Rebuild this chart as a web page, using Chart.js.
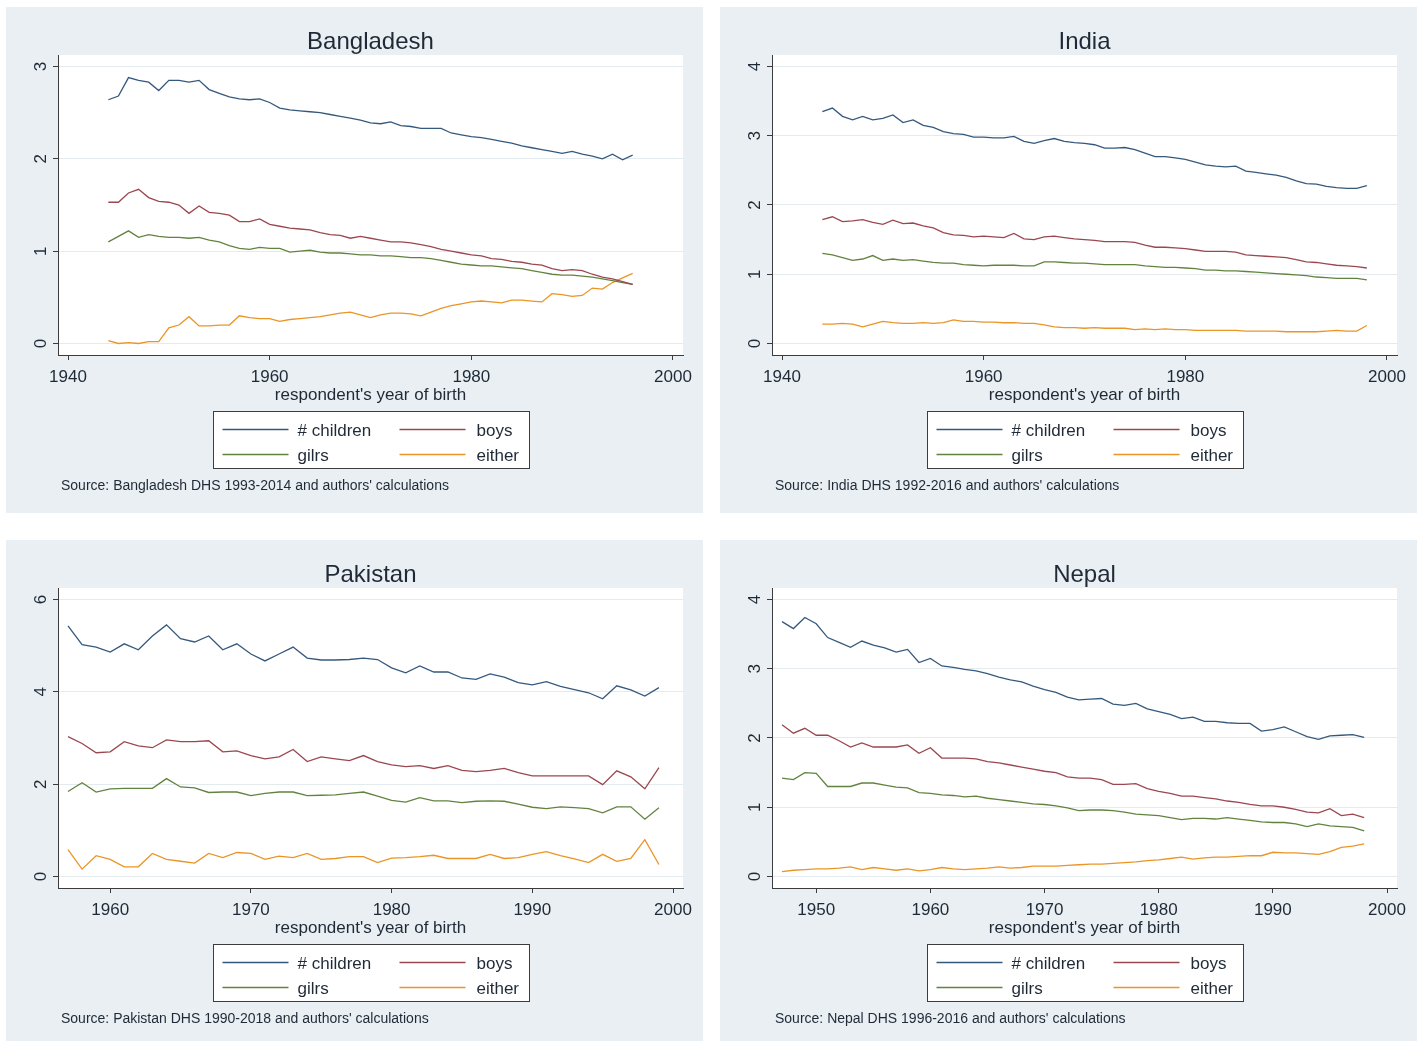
<!DOCTYPE html>
<html>
<head>
<meta charset="utf-8">
<title>Number of children by year of birth</title>
<script src="https://cdn.jsdelivr.net/npm/chart.js@4.4.1/dist/chart.umd.min.js"></script>
<style>
  html, body { margin: 0; padding: 0; background: #fff; overflow: hidden; width: 1427px; height: 1041px; }
  .panel { position: absolute; width: 697px; height: 506px; background: #e9eff2; }
  .panel canvas { position: absolute; left: 0; top: 0; }
</style>
</head>
<body>
<div class="panel" style="left:6px;top:7px"><canvas id="bd" width="697" height="506"></canvas></div>
<div class="panel" style="left:720px;top:7px"><canvas id="in" width="697" height="506"></canvas></div>
<div class="panel" style="left:6px;top:540px"><canvas id="pk" width="697" height="506"></canvas></div>
<div class="panel" style="left:720px;top:540px"><canvas id="np" width="697" height="506"></canvas></div>
<script>
// series order is the same in every panel
const seriesLabels = ['# children', 'boys', 'gilrs', 'either'];
const lineColors = ['#35597c', '#9b4750', '#62833f', '#ea9526'];

function yearSpan(a, b) {
  const out = [];
  for (let y = a; y <= b; y++) out.push(y);
  return out;
}

// Bangladesh
const bdYears = yearSpan(1944, 1996);
const bdXTicks = [1940, 1960, 1980, 2000];
const bdYTicks = [0, 1, 2, 3];
const bdChildren = [2.64, 2.68, 2.88, 2.85, 2.83, 2.74, 2.85, 2.85, 2.83, 2.85, 2.75, 2.71, 2.67, 2.65, 2.64, 2.65, 2.61, 2.55, 2.53, 2.52,
  2.51, 2.50, 2.48, 2.46, 2.44, 2.42, 2.39, 2.38, 2.40, 2.36, 2.35, 2.33, 2.33, 2.33, 2.28, 2.26, 2.24, 2.23, 2.21, 2.19,
  2.17, 2.14, 2.12, 2.10, 2.08, 2.06, 2.08, 2.05, 2.03, 2.00, 2.05, 1.99, 2.04];
const bdBoys = [1.53, 1.53, 1.63, 1.67, 1.58, 1.54, 1.53, 1.50, 1.41, 1.49, 1.42, 1.41, 1.39, 1.32, 1.32, 1.35, 1.29, 1.27, 1.25, 1.24,
  1.23, 1.20, 1.18, 1.17, 1.14, 1.16, 1.14, 1.12, 1.10, 1.10, 1.09, 1.07, 1.05, 1.02, 1.00, 0.98, 0.96, 0.95, 0.92, 0.91,
  0.89, 0.88, 0.86, 0.85, 0.81, 0.79, 0.80, 0.79, 0.75, 0.72, 0.70, 0.67, 0.64];
const bdGirls = [1.10, 1.16, 1.22, 1.15, 1.18, 1.16, 1.15, 1.15, 1.14, 1.15, 1.12, 1.10, 1.06, 1.03, 1.02, 1.04, 1.03, 1.03, 0.99, 1.00,
  1.01, 0.99, 0.98, 0.98, 0.97, 0.96, 0.96, 0.95, 0.95, 0.94, 0.93, 0.93, 0.92, 0.90, 0.88, 0.86, 0.85, 0.84, 0.84, 0.83,
  0.82, 0.81, 0.79, 0.77, 0.75, 0.74, 0.74, 0.73, 0.72, 0.70, 0.68, 0.66, 0.64];
const bdEither = [0.03, 0.00, 0.01, 0.00, 0.02, 0.02, 0.17, 0.20, 0.29, 0.19, 0.19, 0.20, 0.20, 0.30, 0.28, 0.27, 0.27, 0.24, 0.26, 0.27,
  0.28, 0.29, 0.31, 0.33, 0.34, 0.31, 0.28, 0.31, 0.33, 0.33, 0.32, 0.30, 0.34, 0.38, 0.41, 0.43, 0.45, 0.46, 0.45, 0.44,
  0.47, 0.47, 0.46, 0.45, 0.54, 0.53, 0.51, 0.52, 0.60, 0.59, 0.66, 0.71, 0.76];

// India
const inYears = yearSpan(1944, 1998);
const inXTicks = [1940, 1960, 1980, 2000];
const inYTicks = [0, 1, 2, 3, 4];
const inChildren = [3.35, 3.40, 3.28, 3.23, 3.28, 3.23, 3.25, 3.30, 3.19, 3.23, 3.15, 3.12, 3.06, 3.03, 3.02, 2.98, 2.98, 2.97, 2.97, 2.99,
  2.92, 2.89, 2.93, 2.96, 2.92, 2.90, 2.89, 2.87, 2.82, 2.82, 2.83, 2.80, 2.75, 2.70, 2.70, 2.68, 2.66, 2.62, 2.58, 2.56,
  2.55, 2.56, 2.49, 2.47, 2.45, 2.43, 2.40, 2.35, 2.31, 2.30, 2.27, 2.25, 2.24, 2.24, 2.28];
const inBoys = [1.79, 1.83, 1.76, 1.77, 1.79, 1.75, 1.72, 1.78, 1.73, 1.74, 1.70, 1.67, 1.60, 1.57, 1.56, 1.54, 1.55, 1.54, 1.53, 1.59,
  1.51, 1.50, 1.54, 1.55, 1.53, 1.51, 1.50, 1.49, 1.47, 1.47, 1.47, 1.46, 1.42, 1.39, 1.39, 1.38, 1.37, 1.35, 1.33, 1.33,
  1.33, 1.32, 1.28, 1.27, 1.26, 1.25, 1.24, 1.21, 1.18, 1.17, 1.15, 1.13, 1.12, 1.11, 1.09];
const inGirls = [1.30, 1.28, 1.24, 1.20, 1.22, 1.27, 1.20, 1.22, 1.20, 1.21, 1.19, 1.17, 1.16, 1.16, 1.14, 1.13, 1.12, 1.13, 1.13, 1.13,
  1.12, 1.12, 1.18, 1.18, 1.17, 1.16, 1.16, 1.15, 1.14, 1.14, 1.14, 1.14, 1.12, 1.11, 1.10, 1.10, 1.09, 1.08, 1.06, 1.06,
  1.05, 1.05, 1.04, 1.03, 1.02, 1.01, 1.00, 0.99, 0.98, 0.96, 0.95, 0.94, 0.94, 0.94, 0.92];
const inEither = [0.28, 0.28, 0.29, 0.28, 0.24, 0.28, 0.32, 0.30, 0.29, 0.29, 0.30, 0.29, 0.30, 0.34, 0.32, 0.32, 0.31, 0.31, 0.30, 0.30,
  0.29, 0.29, 0.27, 0.24, 0.23, 0.23, 0.22, 0.23, 0.22, 0.22, 0.22, 0.20, 0.21, 0.20, 0.21, 0.20, 0.20, 0.19, 0.19, 0.19,
  0.19, 0.19, 0.18, 0.18, 0.18, 0.18, 0.17, 0.17, 0.17, 0.17, 0.18, 0.19, 0.18, 0.18, 0.26];

// Pakistan
const pkYears = yearSpan(1957, 1999);
const pkXTicks = [1960, 1970, 1980, 1990, 2000];
const pkYTicks = [0, 2, 4, 6];
const pkChildren = [5.43, 5.02, 4.97, 4.86, 5.04, 4.91, 5.21, 5.45, 5.15, 5.08, 5.21, 4.91, 5.04, 4.82, 4.67, 4.82, 4.97, 4.73, 4.69, 4.69,
  4.70, 4.73, 4.70, 4.52, 4.41, 4.56, 4.43, 4.43, 4.30, 4.27, 4.39, 4.32, 4.20, 4.15, 4.22, 4.12, 4.05, 3.98, 3.85, 4.13,
  4.04, 3.91, 4.09];
const pkBoys = [3.03, 2.88, 2.68, 2.70, 2.92, 2.83, 2.79, 2.96, 2.92, 2.92, 2.94, 2.70, 2.72, 2.62, 2.55, 2.59, 2.75, 2.49, 2.59, 2.55,
  2.51, 2.62, 2.49, 2.42, 2.38, 2.40, 2.34, 2.40, 2.30, 2.27, 2.30, 2.34, 2.25, 2.18, 2.18, 2.18, 2.18, 2.18, 1.99, 2.29,
  2.16, 1.90, 2.36];
const pkGirls = [1.84, 2.03, 1.83, 1.90, 1.91, 1.91, 1.91, 2.12, 1.94, 1.92, 1.82, 1.83, 1.83, 1.75, 1.80, 1.83, 1.83, 1.75, 1.76, 1.77,
  1.80, 1.83, 1.74, 1.65, 1.61, 1.71, 1.64, 1.64, 1.60, 1.63, 1.64, 1.63, 1.57, 1.50, 1.47, 1.51, 1.49, 1.47, 1.38, 1.51,
  1.51, 1.24, 1.49];
const pkEither = [0.58, 0.16, 0.45, 0.37, 0.21, 0.21, 0.50, 0.37, 0.33, 0.29, 0.50, 0.41, 0.52, 0.50, 0.37, 0.44, 0.41, 0.50, 0.37, 0.39,
  0.43, 0.43, 0.30, 0.40, 0.41, 0.43, 0.46, 0.39, 0.39, 0.39, 0.48, 0.39, 0.41, 0.48, 0.54, 0.45, 0.38, 0.30, 0.48, 0.33,
  0.39, 0.80, 0.26];

// Nepal
const npYears = yearSpan(1947, 1998);
const npXTicks = [1950, 1960, 1970, 1980, 1990, 2000];
const npYTicks = [0, 1, 2, 3, 4];
const npChildren = [3.68, 3.58, 3.74, 3.65, 3.45, 3.38, 3.31, 3.40, 3.34, 3.30, 3.24, 3.28, 3.09, 3.15, 3.04, 3.02, 2.99, 2.97, 2.93, 2.88,
  2.84, 2.81, 2.75, 2.70, 2.66, 2.59, 2.55, 2.56, 2.57, 2.49, 2.47, 2.50, 2.42, 2.38, 2.34, 2.28, 2.30, 2.24, 2.24, 2.22,
  2.21, 2.21, 2.10, 2.12, 2.16, 2.09, 2.02, 1.98, 2.03, 2.04, 2.05, 2.01];
const npBoys = [2.19, 2.07, 2.14, 2.04, 2.04, 1.96, 1.87, 1.93, 1.87, 1.87, 1.87, 1.90, 1.78, 1.86, 1.71, 1.71, 1.71, 1.70, 1.66, 1.64,
  1.61, 1.58, 1.55, 1.52, 1.50, 1.44, 1.42, 1.42, 1.40, 1.33, 1.33, 1.34, 1.27, 1.23, 1.20, 1.16, 1.16, 1.14, 1.12, 1.09,
  1.07, 1.04, 1.02, 1.02, 1.00, 0.97, 0.93, 0.92, 0.98, 0.88, 0.90, 0.85];
const npGirls = [1.42, 1.40, 1.50, 1.49, 1.30, 1.30, 1.30, 1.35, 1.35, 1.32, 1.29, 1.28, 1.21, 1.20, 1.18, 1.17, 1.15, 1.16, 1.13, 1.11,
  1.09, 1.07, 1.05, 1.04, 1.02, 0.99, 0.95, 0.96, 0.96, 0.95, 0.93, 0.90, 0.89, 0.88, 0.85, 0.82, 0.84, 0.84, 0.83, 0.85,
  0.83, 0.81, 0.79, 0.78, 0.78, 0.76, 0.72, 0.76, 0.73, 0.72, 0.71, 0.66];
const npEither = [0.07, 0.09, 0.10, 0.11, 0.11, 0.12, 0.14, 0.10, 0.13, 0.11, 0.09, 0.11, 0.08, 0.10, 0.13, 0.11, 0.10, 0.11, 0.12, 0.14,
  0.12, 0.13, 0.15, 0.15, 0.15, 0.16, 0.17, 0.18, 0.18, 0.19, 0.20, 0.21, 0.23, 0.24, 0.26, 0.28, 0.25, 0.27, 0.28, 0.28,
  0.29, 0.30, 0.30, 0.35, 0.34, 0.34, 0.33, 0.32, 0.36, 0.42, 0.44, 0.47];

const FONT = '"Liberation Sans", Arial, sans-serif';
const TEXT = '#1f2a36';

// plot region inside each 697x506 panel, in px
const AREA = { left: 52, right: 677, top: 48, bottom: 348 };
const PAD_X = 10;   // gap between axis ends and outermost ticks
const PAD_Y = 11.5;

// Stata-like furniture: white plot region, rotated y labels, titles, boxed legend, note
const stataLook = {
  id: 'stataLook',
  beforeDraw(chart) {
    const { ctx, chartArea: a } = chart;
    ctx.save();
    ctx.fillStyle = '#ffffff';
    ctx.fillRect(a.left, a.top, a.right - a.left, a.bottom - a.top);
    ctx.restore();
  },
  afterDraw(chart, args, o) {
    const { ctx, chartArea: a, scales } = chart;
    const cx = (a.left + a.right) / 2;
    ctx.save();
    ctx.fillStyle = TEXT;

    // y tick labels read bottom to top
    ctx.font = '17px ' + FONT;
    ctx.textAlign = 'center';
    ctx.textBaseline = 'middle';
    o.yTicks.forEach(v => {
      ctx.save();
      ctx.translate(a.left - 18, scales.y.getPixelForValue(v));
      ctx.rotate(-Math.PI / 2);
      ctx.fillText(String(v), 0, 1);
      ctx.restore();
    });

    // x tick labels
    ctx.textBaseline = 'alphabetic';
    o.xTicks.forEach(v => {
      ctx.fillText(String(v), scales.x.getPixelForValue(v), a.bottom + 27);
    });
    ctx.fillText("respondent's year of birth", cx, a.bottom + 45);

    // title
    ctx.font = '24px ' + FONT;
    ctx.fillText(o.title, cx, 42);

    // legend box, two columns
    const bw = 316, bh = 57, bx = Math.round(cx - bw / 2) + 0.5, by = 404.5;
    ctx.fillStyle = '#ffffff';
    ctx.fillRect(bx, by, bw, bh);
    ctx.strokeStyle = '#3c3c3c';
    ctx.lineWidth = 1;
    ctx.strokeRect(bx, by, bw, bh);
    ctx.font = '17px ' + FONT;
    ctx.textAlign = 'left';
    chart.data.datasets.forEach((ds, i) => {
      const col = i % 2, row = Math.floor(i / 2);
      const lx = bx + 9 + col * 177;
      const ly = by + 18 + row * 25;
      ctx.strokeStyle = ds.borderColor;
      ctx.lineWidth = ds.borderWidth;
      ctx.beginPath();
      ctx.moveTo(lx, ly);
      ctx.lineTo(lx + 66, ly);
      ctx.stroke();
      ctx.fillStyle = TEXT;
      ctx.fillText(ds.label, lx + (col ? 77 : 75), ly + 6);
    });

    // note
    ctx.font = '14px ' + FONT;
    ctx.fillStyle = TEXT;
    ctx.fillText(o.source, 55, 483);
    ctx.restore();
  }
};

function drawPanel(canvasId, title, source, years, series, xTicks, yTicks) {
  const xLo = xTicks[0] < years[0] ? xTicks[0] : years[0];
  const xHi = xTicks[xTicks.length - 1];
  const xStep = (xHi - xLo) / (AREA.right - AREA.left - 2 * PAD_X);
  const yLo = yTicks[0], yHi = yTicks[yTicks.length - 1];
  const yStep = (yHi - yLo) / (AREA.bottom - AREA.top - 2 * PAD_Y);

  const ctx = document.getElementById(canvasId).getContext('2d');
  new Chart(ctx, {
    type: 'line',
    data: {
      datasets: series.map((vals, i) => ({
        label: seriesLabels[i],
        data: years.map((yr, k) => ({ x: yr, y: vals[k] })),
        borderColor: lineColors[i],
        borderWidth: 1.3,
        pointRadius: 0,
        tension: 0,
        fill: false
      }))
    },
    options: {
      responsive: false,
      animation: false,
      events: [],
      layout: { padding: { left: 0, top: AREA.top, right: 697 - AREA.right, bottom: 0 } },
      plugins: {
        legend: { display: false },
        tooltip: { enabled: false },
        stataLook: { title: title, source: source, xTicks: xTicks, yTicks: yTicks }
      },
      scales: {
        x: {
          type: 'linear',
          min: xLo - PAD_X * xStep,
          max: xHi + PAD_X * xStep,
          afterBuildTicks: s => { s.ticks = xTicks.map(v => ({ value: v })); },
          afterFit: s => { s.height = 506 - AREA.bottom; },
          ticks: { display: false },
          grid: { drawOnChartArea: false, tickLength: 5, tickColor: '#3c3c3c' },
          border: { display: true, color: '#3c3c3c', width: 1 }
        },
        y: {
          min: yLo - PAD_Y * yStep,
          max: yHi + PAD_Y * yStep,
          afterBuildTicks: s => { s.ticks = yTicks.map(v => ({ value: v })); },
          afterFit: s => { s.width = AREA.left; },
          ticks: { display: false },
          grid: { color: '#e3ebee', lineWidth: 1, tickLength: 5, tickColor: '#3c3c3c' },
          border: { display: true, color: '#3c3c3c', width: 1 }
        }
      }
    },
    plugins: [stataLook]
  });
}

window.addEventListener('DOMContentLoaded', () => {
  drawPanel('bd', 'Bangladesh', "Source: Bangladesh DHS 1993-2014 and authors' calculations",
    bdYears, [bdChildren, bdBoys, bdGirls, bdEither], bdXTicks, bdYTicks);
  drawPanel('in', 'India', "Source: India DHS 1992-2016 and authors' calculations",
    inYears, [inChildren, inBoys, inGirls, inEither], inXTicks, inYTicks);
  drawPanel('pk', 'Pakistan', "Source: Pakistan DHS 1990-2018 and authors' calculations",
    pkYears, [pkChildren, pkBoys, pkGirls, pkEither], pkXTicks, pkYTicks);
  drawPanel('np', 'Nepal', "Source: Nepal DHS 1996-2016 and authors' calculations",
    npYears, [npChildren, npBoys, npGirls, npEither], npXTicks, npYTicks);
});
</script>
</body>
</html>
